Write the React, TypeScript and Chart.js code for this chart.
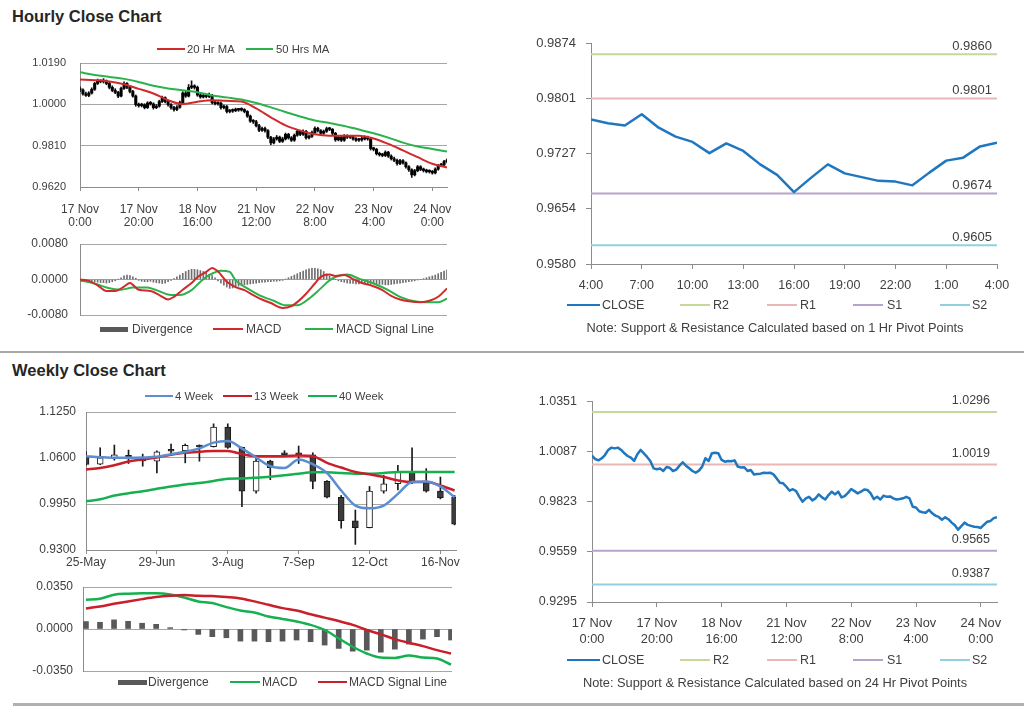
import React, { useEffect, useRef } from "react";
import { Chart, registerables } from "chart.js";

Chart.register(...registerables);

const FONT = "'Liberation Sans', Arial, Helvetica, sans-serif";
Chart.defaults.font.family = FONT;
Chart.defaults.color = "#404040";

// ================= HOURLY DATA (17 Nov 0:00 -> 24 Nov, 126 hourly bars) =================
const hourTickIndex = [0, 20, 40, 60, 80, 100, 120];
const hourTickLabels = [
  ["17 Nov", "0:00"], ["17 Nov", "20:00"], ["18 Nov", "16:00"], ["21 Nov", "12:00"],
  ["22 Nov", "8:00"], ["23 Nov", "4:00"], ["24 Nov", "0:00"],
];

const hourlyOpen = [
  1.0072, 1.0066, 1.0048, 1.0041, 1.0052, 1.0069, 1.0096, 1.0108, 1.0104, 1.0108,
  1.0096, 1.0078, 1.0064, 1.0055, 1.0038, 1.0073, 1.0096, 1.0078, 1.0059, 1.0038,
  0.9999, 0.9994, 0.9998, 0.9985, 1.0006, 1.0002, 0.9985, 0.9992, 1.0013, 1.0031,
  1.0013, 0.9999, 0.9985, 0.9976, 0.9987, 1.0008, 1.0052, 1.0038, 1.0078, 1.0081,
  1.0078, 1.0043, 1.0034, 1.0038, 1.0036, 1.0041, 1.0008, 1.0003, 1.0005, 0.9985,
  0.9990, 0.9967, 0.9969, 0.9971, 0.9976, 0.9974, 0.9976, 0.9967, 0.9946, 0.9923,
  0.9920, 0.9902, 0.9881, 0.9889, 0.9879, 0.9849, 0.9823, 0.9841, 0.9849, 0.9830,
  0.9841, 0.9862, 0.9846, 0.9835, 0.9858, 0.9876, 0.9862, 0.9876, 0.9846, 0.9853,
  0.9870, 0.9890, 0.9879, 0.9867, 0.9876, 0.9888, 0.9885, 0.9867, 0.9837, 0.9849,
  0.9835, 0.9855, 0.9849, 0.9851, 0.9841, 0.9835, 0.9837, 0.9841, 0.9849, 0.9841,
  0.9797, 0.9793, 0.9773, 0.9768, 0.9765, 0.9780, 0.9762, 0.9750, 0.9743, 0.9728,
  0.9741, 0.9731, 0.9713, 0.9699, 0.9676, 0.9695, 0.9713, 0.9701, 0.9696, 0.9691,
  0.9690, 0.9685, 0.9702, 0.9718, 0.9722, 0.9737,
];
const hourlyHigh = [
  1.0080, 1.0071, 1.0056, 1.0058, 1.0076, 1.0101, 1.0116, 1.0113, 1.0118, 1.0112,
  1.0101, 1.0085, 1.0072, 1.0060, 1.0079, 1.0104, 1.0100, 1.0083, 1.0064, 1.0043,
  1.0006, 1.0005, 1.0003, 1.0012, 1.0013, 1.0007, 0.9999, 1.0019, 1.0038, 1.0035,
  1.0018, 1.0004, 0.9991, 0.9994, 1.0015, 1.0058, 1.0060, 1.0091, 1.0108, 1.0090,
  1.0084, 1.0050, 1.0046, 1.0045, 1.0052, 1.0046, 1.0014, 1.0011, 1.0010, 0.9997,
  0.9995, 0.9976, 0.9979, 0.9983, 0.9982, 0.9984, 0.9980, 0.9971, 0.9951, 0.9930,
  0.9926, 0.9908, 0.9896, 0.9895, 0.9884, 0.9853, 0.9848, 0.9857, 0.9854, 0.9849,
  0.9868, 0.9867, 0.9852, 0.9864, 0.9884, 0.9881, 0.9883, 0.9880, 0.9860, 0.9877,
  0.9897, 0.9895, 0.9884, 0.9882, 0.9895, 0.9894, 0.9889, 0.9871, 0.9856, 0.9854,
  0.9861, 0.9860, 0.9858, 0.9856, 0.9847, 0.9844, 0.9848, 0.9855, 0.9854, 0.9846,
  0.9803, 0.9798, 0.9780, 0.9775, 0.9786, 0.9784, 0.9768, 0.9757, 0.9748, 0.9747,
  0.9746, 0.9736, 0.9719, 0.9704, 0.9701, 0.9719, 0.9718, 0.9707, 0.9702, 0.9699,
  0.9696, 0.9708, 0.9724, 0.9729, 0.9743, 0.9750,
];
const hourlyLow = [
  1.0058, 1.0042, 1.0036, 1.0035, 1.0047, 1.0064, 1.0091, 1.0099, 1.0098, 1.0090,
  1.0071, 1.0058, 1.0049, 1.0031, 1.0034, 1.0068, 1.0072, 1.0052, 1.0033, 0.9991,
  0.9987, 0.9988, 0.9979, 0.9981, 0.9996, 0.9978, 0.9980, 0.9987, 1.0008, 1.0007,
  0.9992, 0.9978, 0.9968, 0.9971, 0.9982, 1.0003, 1.0032, 1.0034, 1.0072, 1.0070,
  1.0037, 1.0028, 1.0029, 1.0030, 1.0031, 1.0002, 0.9997, 0.9996, 0.9978, 0.9979,
  0.9960, 0.9961, 0.9963, 0.9966, 0.9968, 0.9969, 0.9961, 0.9940, 0.9917, 0.9912,
  0.9896, 0.9874, 0.9875, 0.9872, 0.9842, 0.9815, 0.9818, 0.9835, 0.9824, 0.9825,
  0.9836, 0.9840, 0.9829, 0.9830, 0.9853, 0.9856, 0.9857, 0.9840, 0.9841, 0.9848,
  0.9865, 0.9873, 0.9861, 0.9862, 0.9871, 0.9879, 0.9860, 0.9830, 0.9832, 0.9829,
  0.9830, 0.9843, 0.9843, 0.9835, 0.9829, 0.9830, 0.9831, 0.9836, 0.9835, 0.9790,
  0.9786, 0.9767, 0.9762, 0.9759, 0.9760, 0.9756, 0.9744, 0.9737, 0.9720, 0.9723,
  0.9725, 0.9706, 0.9692, 0.9664, 0.9671, 0.9690, 0.9695, 0.9689, 0.9685, 0.9684,
  0.9679, 0.9680, 0.9697, 0.9713, 0.9716, 0.9731,
];
const hourlyClose = [
  1.0066, 1.0048, 1.0041, 1.0052, 1.0069, 1.0096, 1.0108, 1.0104, 1.0108, 1.0096,
  1.0078, 1.0064, 1.0055, 1.0038, 1.0073, 1.0096, 1.0078, 1.0059, 1.0038, 0.9999,
  0.9994, 0.9998, 0.9985, 1.0006, 1.0002, 0.9985, 0.9992, 1.0013, 1.0031, 1.0013,
  0.9999, 0.9985, 0.9976, 0.9987, 1.0008, 1.0052, 1.0038, 1.0078, 1.0081, 1.0078,
  1.0043, 1.0034, 1.0038, 1.0036, 1.0041, 1.0008, 1.0003, 1.0005, 0.9985, 0.9990,
  0.9967, 0.9969, 0.9971, 0.9976, 0.9974, 0.9976, 0.9967, 0.9946, 0.9923, 0.9920,
  0.9902, 0.9881, 0.9889, 0.9879, 0.9849, 0.9823, 0.9841, 0.9849, 0.9830, 0.9841,
  0.9862, 0.9846, 0.9835, 0.9858, 0.9876, 0.9862, 0.9876, 0.9846, 0.9853, 0.9870,
  0.9890, 0.9879, 0.9867, 0.9876, 0.9888, 0.9885, 0.9867, 0.9837, 0.9849, 0.9835,
  0.9855, 0.9849, 0.9851, 0.9841, 0.9835, 0.9837, 0.9841, 0.9849, 0.9841, 0.9797,
  0.9793, 0.9773, 0.9768, 0.9765, 0.9780, 0.9762, 0.9750, 0.9743, 0.9728, 0.9741,
  0.9731, 0.9713, 0.9699, 0.9676, 0.9695, 0.9713, 0.9701, 0.9696, 0.9691, 0.9690,
  0.9685, 0.9702, 0.9718, 0.9722, 0.9737, 0.9742,
];

const maHourIndex = [0, 5, 10, 15, 20, 25, 30, 35, 40, 45, 50, 55, 60, 65, 70, 75, 80, 85, 90, 95, 100, 105, 110, 115, 120, 125];
const ma20Hourly = [1.0114, 1.0111, 1.0105, 1.0092, 1.0071, 1.0050, 1.0019, 1.0001, 1.0012, 1.0019, 1.0016, 1.0013, 0.9981, 0.9940, 0.9903, 0.9879, 0.9862, 0.9856, 0.9856, 0.9856, 0.9843, 0.9818, 0.9788, 0.9757, 0.9727, 0.9710];
const ma50Hourly = [1.0147, 1.0135, 1.0126, 1.0117, 1.0103, 1.0085, 1.0073, 1.0065, 1.0056, 1.0041, 1.0032, 1.0022, 1.0006, 0.9986, 0.9965, 0.9944, 0.9926, 0.9914, 0.9900, 0.9884, 0.9867, 0.9847, 0.9824, 0.9806, 0.9795, 0.9783];

const macdHourX = [0, 3, 6, 9, 12, 15, 17, 18, 20, 24, 27, 30, 32, 35, 38, 40, 43, 45, 47, 50, 53, 56, 59, 62, 65, 69, 72, 74, 77, 80, 82, 85, 87, 90, 93, 96, 99, 103, 106, 109, 112, 116, 119, 122, 125];
const macdHourY = [0.0000, -0.0003, -0.0013, -0.0026, -0.0026, -0.0016, -0.0008, -0.0012, -0.0023, -0.0026, -0.0035, -0.0045, -0.0039, -0.0023, -0.0008, 0.0005, 0.0017, 0.0026, 0.0018, -0.0005, -0.0017, -0.0024, -0.0035, -0.0045, -0.0053, -0.0064, -0.0060, -0.0051, -0.0032, -0.0009, 0.0006, 0.0011, 0.0008, 0.0010, 0.0001, -0.0008, -0.0013, -0.0024, -0.0037, -0.0045, -0.0049, -0.0051, -0.0048, -0.0039, -0.0020];
const signalHourX = [0, 5, 9, 14, 18, 23, 26, 31, 34, 38, 41, 44, 48, 51, 53, 57, 61, 66, 70, 74, 78, 82, 85, 89, 91, 95, 100, 105, 109, 114, 118, 122, 125];
const signalHourY = [-0.0002, -0.0009, -0.0018, -0.0023, -0.0018, -0.0018, -0.0024, -0.0035, -0.0035, -0.0024, -0.0005, 0.0010, 0.0020, 0.0017, -0.0002, -0.0020, -0.0035, -0.0048, -0.0058, -0.0058, -0.0043, -0.0020, -0.0002, 0.0010, 0.0011, 0.0002, -0.0009, -0.0024, -0.0039, -0.0049, -0.0051, -0.0051, -0.0043];
const divergenceHourly = [
  -0.0001, -0.0002, -0.0003, -0.0004, -0.0004, -0.0005, -0.0006, -0.0007, -0.0007, -0.0008,
  -0.0007, -0.0005, -0.0003, 0.0001, 0.0004, 0.0008, 0.0010, 0.0009, 0.0006, 0.0003,
  -0.0002, -0.0004, -0.0005, -0.0005, -0.0004, -0.0006, -0.0007, -0.0008, -0.0009, -0.0008,
  -0.0005, -0.0002, 0.0002, 0.0006, 0.0010, 0.0014, 0.0018, 0.0021, 0.0023, 0.0023,
  0.0022, 0.0020, 0.0018, 0.0015, 0.0012, 0.0009, 0.0004, -0.0003, -0.0008, -0.0013,
  -0.0017, -0.0020, -0.0019, -0.0017, -0.0015, -0.0013, -0.0012, -0.0011, -0.0010, -0.0009,
  -0.0008, -0.0007, -0.0006, -0.0006, -0.0005, -0.0005, -0.0004, -0.0004, -0.0003, -0.0002,
  0.0001, 0.0004, 0.0007, 0.0010, 0.0013, 0.0016, 0.0019, 0.0022, 0.0024, 0.0025,
  0.0025, 0.0024, 0.0022, 0.0018, 0.0013, 0.0008, 0.0004, 0.0000, -0.0003, -0.0005,
  -0.0006, -0.0008, -0.0009, -0.0009, -0.0010, -0.0010, -0.0009, -0.0010, -0.0010, -0.0009,
  -0.0009, -0.0010, -0.0011, -0.0011, -0.0012, -0.0012, -0.0011, -0.0010, -0.0009, -0.0008,
  -0.0007, -0.0006, -0.0005, -0.0004, -0.0003, -0.0001, 0.0000, 0.0002, 0.0004, 0.0006,
  0.0008, 0.0010, 0.0013, 0.0016, 0.0019, 0.0022,
];

const hourYTicks = [0.962, 0.981, 1.0, 1.019];
const macdHourYTicks = [-0.008, 0, 0.008];

// ----- last 24 hours (1 Hr pivots) -----
const lastDayLabels = ["4:00", "5:00", "6:00", "7:00", "8:00", "9:00", "10:00", "11:00", "12:00", "13:00", "14:00", "15:00", "16:00", "17:00", "18:00", "19:00", "20:00", "21:00", "22:00", "23:00", "0:00", "1:00", "2:00", "3:00", "4:00"];
const lastDayTickIndex = [0, 3, 6, 9, 12, 15, 18, 21, 24];
const lastDayClose = [0.9773, 0.9768, 0.9765, 0.9780, 0.9762, 0.9750, 0.9743, 0.9728, 0.9741, 0.9731, 0.9713, 0.9699, 0.9676, 0.9695, 0.9713, 0.9701, 0.9696, 0.9691, 0.9690, 0.9685, 0.9702, 0.9718, 0.9722, 0.9737, 0.9742];
const pivotNames = ["R2", "R1", "S1", "S2"];
const pivot1hLevels = [0.9860, 0.9801, 0.9674, 0.9605];
const lastDayYTicks = [0.958, 0.9654, 0.9727, 0.9801, 0.9874];

// ----- 24 Hr pivots on the hourly close -----
const pivot24hLevels = [1.0296, 1.0019, 0.9565, 0.9387];
const weekHourYTicks = [0.9295, 0.9559, 0.9823, 1.0087, 1.0351];

// ================= WEEKLY DATA (25-May -> 23-Nov) =================
const weekLabels = ["25-May", "1-Jun", "8-Jun", "15-Jun", "22-Jun", "29-Jun", "6-Jul", "13-Jul", "20-Jul", "27-Jul", "3-Aug", "10-Aug", "17-Aug", "24-Aug", "31-Aug", "7-Sep", "14-Sep", "21-Sep", "28-Sep", "5-Oct", "12-Oct", "19-Oct", "26-Oct", "2-Nov", "9-Nov", "16-Nov", "23-Nov"];
const weekTickIndex = [0, 5, 10, 15, 20, 25];
const weeklyOpen = [1.0615, 1.0512, 1.0603, 1.0636, 1.0603, 1.0555, 1.0705, 1.0703, 1.0779, 1.0760, 1.1036, 1.0750, 1.0131, 1.0555, 1.0674, 1.0674, 1.0645, 1.0269, 1.0046, 0.9713, 0.9617, 1.0131, 1.0236, 1.0403, 1.0250, 1.0131, 1.0046];
const weeklyHigh = [1.0690, 1.0745, 1.0783, 1.0712, 1.0655, 1.0703, 1.0798, 1.0798, 1.0785, 1.1083, 1.1083, 1.0755, 1.0617, 1.0569, 1.0703, 1.0769, 1.0674, 1.0280, 1.0070, 0.9865, 1.0198, 1.0355, 1.0498, 1.0745, 1.0450, 1.0331, 1.0070];
const weeklyLow = [1.0500, 1.0505, 1.0569, 1.0522, 1.0484, 1.0388, 1.0655, 1.0531, 1.0555, 1.0755, 1.0736, 0.9912, 1.0103, 1.0293, 1.0636, 1.0522, 1.0165, 1.0036, 0.9608, 0.9379, 0.9612, 1.0103, 1.0150, 1.0236, 1.0117, 1.0022, 0.9655];
const weeklyClose = [1.0510, 1.0603, 1.0645, 1.0588, 1.0560, 1.0688, 1.0695, 1.0779, 1.0755, 1.1036, 1.0750, 1.0131, 1.0555, 1.0465, 1.0645, 1.0645, 1.0269, 1.0046, 0.9713, 0.9617, 1.0131, 1.0236, 1.0403, 1.0260, 1.0131, 1.0036, 0.9665];
const ma4Week = [1.0626, 1.0612, 1.0603, 1.0603, 1.0607, 1.0617, 1.0655, 1.0688, 1.0736, 1.0817, 1.0841, 1.0736, 1.0607, 1.0484, 1.0460, 1.0579, 1.0512, 1.0388, 1.0141, 0.9927, 0.9889, 0.9927, 1.0093, 1.0260, 1.0269, 1.0198, 1.0046];
const ma13Week = [1.0436, 1.0460, 1.0498, 1.0550, 1.0579, 1.0607, 1.0645, 1.0674, 1.0688, 1.0698, 1.0698, 1.0655, 1.0626, 1.0626, 1.0626, 1.0636, 1.0626, 1.0531, 1.0465, 1.0403, 1.0369, 1.0331, 1.0284, 1.0260, 1.0260, 1.0212, 1.0141];
const ma40Week = [0.9989, 1.0017, 1.0070, 1.0103, 1.0131, 1.0165, 1.0198, 1.0227, 1.0246, 1.0274, 1.0308, 1.0312, 1.0322, 1.0336, 1.0355, 1.0379, 1.0398, 1.0398, 1.0388, 1.0379, 1.0379, 1.0388, 1.0403, 1.0403, 1.0403, 1.0403, 1.0403];
const macdWeekly = [0.0244, 0.0252, 0.0286, 0.0294, 0.0297, 0.0297, 0.0288, 0.0263, 0.0230, 0.0216, 0.0182, 0.0154, 0.0137, 0.0104, 0.0084, 0.0062, 0.0034, -0.0008, -0.0078, -0.0148, -0.0204, -0.0238, -0.0241, -0.0221, -0.0238, -0.0246, -0.0297];
const signalWeekly = [0.0171, 0.0188, 0.0210, 0.0230, 0.0249, 0.0266, 0.0277, 0.0283, 0.0277, 0.0274, 0.0266, 0.0255, 0.0230, 0.0202, 0.0174, 0.0154, 0.0123, 0.0095, 0.0067, 0.0034, -0.0008, -0.0045, -0.0084, -0.0115, -0.0143, -0.0176, -0.0204];
const divergenceWeekly = [0.0062, 0.0056, 0.0076, 0.0064, 0.0048, 0.0039, 0.0011, -0.0008, -0.0045, -0.0064, -0.0073, -0.0101, -0.0101, -0.0106, -0.0101, -0.0092, -0.0106, -0.0134, -0.0162, -0.0185, -0.0176, -0.0193, -0.0168, -0.0126, -0.0084, -0.0064, -0.0092];
const weekYTicks = [0.93, 0.995, 1.06, 1.125];
const macdWeekYTicks = [-0.035, 0, 0.035];

// ================= STYLES =================
const TXT = "#404040";
const GRID = "#a6a6a6";
const AXIS = "#8c8c8c";
const RED_H = "#d02a2a";
const GREEN_H = "#2bb24c";
const RED_W = "#c8202a";
const GREEN_W = "#16b050";
const BLUE_W = "#5b8dd0";
const CLOSE_BLUE = "#1f77c0";
const PIVOT_COLORS = ["#c4d99b", "#e8b7b6", "#b6a3cc", "#93d0df"];
const DARK = "#3c3c3c";
const CLEAR = "rgba(0,0,0,0)";

const fixWidth = (w: number) => (s: any) => { s.width = w; };
const fixHeight = (h: number) => (s: any) => { s.height = h; };
const setTicks = (vals: number[]) => (s: any) => { s.ticks = vals.map((value) => ({ value })); };
const fmt4 = (v: any) => Number(v).toFixed(4);

function baseOptions(padding: any) {
  return {
    responsive: false,
    maintainAspectRatio: false,
    animation: false,
    devicePixelRatio: 1,
    events: [],
    layout: { padding },
    plugins: { legend: { display: false }, tooltip: { enabled: false }, title: { display: false } },
  };
}

// o.gap: distance between label and axis, produced by an invisible tick mark (keeps vertical padding small)
// o.tickLen / o.pad: visible tick marks plus label padding
function yAxis(o: any) {
  const visibleTicks = !!o.tickLen;
  return {
    type: "linear",
    bounds: "data",
    min: o.min,
    max: o.max,
    afterBuildTicks: setTicks(o.ticks),
    afterFit: fixWidth(o.width),
    grid: {
      display: true,
      drawOnChartArea: o.grid,
      drawTicks: true,
      tickLength: visibleTicks ? o.tickLen : o.gap,
      tickColor: visibleTicks ? AXIS : CLEAR,
      color: o.grid ? GRID : AXIS,
      lineWidth: 1,
    },
    border: { display: true, color: AXIS, width: 1 },
    ticks: { padding: visibleTicks ? o.pad : 0, font: { size: o.size }, color: TXT, callback: fmt4, autoSkip: false },
  };
}

function xAxis(o: any) {
  return {
    type: "linear",
    bounds: "data",
    min: o.min,
    max: o.max,
    offset: false,
    display: o.display === false ? false : true,
    afterBuildTicks: setTicks(o.ticks || []),
    afterFit: fixHeight(o.height || 0),
    grid: { display: true, offset: false, drawOnChartArea: false, drawTicks: true, tickLength: o.tickLen || 0, color: AXIS },
    border: { display: true, color: AXIS, width: 1 },
    ticks: {
      padding: o.pad || 0,
      font: { size: o.size || 12, lineHeight: `${o.lineHeight || 14}px` },
      color: TXT,
      maxRotation: 0,
      minRotation: 0,
      autoSkip: false,
      callback: o.labels,
    },
  };
}

function lineDS(points: any[], color: string, width: number, smooth: boolean, order: number) {
  return {
    type: "line",
    data: points,
    borderColor: color,
    backgroundColor: color,
    borderWidth: width,
    pointRadius: 0,
    fill: false,
    cubicInterpolationMode: smooth ? "monotone" : "default",
    tension: 0,
    borderJoinStyle: "round",
    order,
  };
}

function pivotLabelPlugin(levels: number[], size: number, inset: number, dy: number) {
  return {
    id: "pivotLabels",
    afterDatasetsDraw(chart: any) {
      const { ctx, chartArea } = chart;
      const ys = chart.scales.y;
      ctx.save();
      ctx.font = `${size}px ${FONT}`;
      ctx.fillStyle = TXT;
      ctx.textAlign = "right";
      ctx.textBaseline = "middle";
      levels.forEach((v) => ctx.fillText(v.toFixed(4), chartArea.right - inset, ys.getPixelForValue(v) - dy));
      ctx.restore();
    },
  };
}

// ---------- Chart A: hourly candles + MAs ----------
const buildHourlyCandles = () => ({
  type: "line",
  data: {
    datasets: [
      lineDS(maHourIndex.map((x, i) => ({ x, y: ma20Hourly[i] })), RED_H, 2, true, 0),
      lineDS(maHourIndex.map((x, i) => ({ x, y: ma50Hourly[i] })), GREEN_H, 2, true, 0),
      {
        type: "bar",
        data: hourlyClose.map((c, i) => ({ x: i, y: [hourlyOpen[i], c] })),
        backgroundColor: "#000000",
        barThickness: 2.4,
        grouped: false,
        minBarLength: 1.5,
        clip: 0,
        order: 1,
      },
      {
        type: "bar",
        data: hourlyHigh.map((h, i) => ({ x: i, y: [hourlyLow[i], h] })),
        backgroundColor: "#111111",
        barThickness: 1,
        grouped: false,
        clip: 0,
        order: 2,
      },
    ],
  },
  options: {
    ...baseOptions({ left: 20, top: 15, right: 18, bottom: 6 }),
    scales: {
      x: xAxis({ min: 0, max: 125, ticks: hourTickIndex, height: 45, tickLen: 4, pad: 11.5, size: 12, lineHeight: 13.5,
        labels: (v: any) => hourTickLabels[hourTickIndex.indexOf(Number(v))] }),
      y: yAxis({ min: 0.962, max: 1.019, ticks: hourYTicks, width: 60, gap: 14, size: 11, grid: true }),
    },
  },
});

// ---------- Chart B: hourly MACD ----------
const buildHourlyMacd = () => ({
  type: "line",
  data: {
    datasets: [
      lineDS(macdHourX.map((x, i) => ({ x, y: macdHourY[i] })), RED_H, 2, true, 0),
      lineDS(signalHourX.map((x, i) => ({ x, y: signalHourY[i] })), GREEN_H, 2, true, 1),
      {
        type: "bar",
        data: divergenceHourly.map((v, i) => ({ x: i, y: v })),
        backgroundColor: "#6e6e6e",
        barThickness: 1,
        grouped: false,
        order: 2,
      },
    ],
  },
  options: {
    ...baseOptions({ left: 20, top: 12, right: 18, bottom: 12 }),
    scales: {
      x: xAxis({ min: 0, max: 125, display: false }),
      y: yAxis({ min: -0.008, max: 0.008, ticks: macdHourYTicks, width: 60, gap: 12, size: 12, grid: true }),
    },
  },
});

// ---------- Chart C: last 24h close + 1 Hr pivots ----------
const buildLastDay = () => ({
  type: "line",
  data: {
    datasets: [
      lineDS(lastDayClose.map((y, x) => ({ x, y })), CLOSE_BLUE, 2.5, false, 0),
      ...pivot1hLevels.map((lvl, k) => lineDS([{ x: 0, y: lvl }, { x: 24, y: lvl }], PIVOT_COLORS[k], 2, false, 1)),
    ],
  },
  plugins: [pivotLabelPlugin(pivot1hLevels, 13, 5, 8)],
  options: {
    ...baseOptions({ left: 6, top: 0, right: 27, bottom: 5 }),
    scales: {
      x: xAxis({ min: 0, max: 24, ticks: lastDayTickIndex, height: 33, tickLen: 5, pad: 9, size: 12.5, lineHeight: 15,
        labels: (v: any) => lastDayLabels[Number(v)] }),
      y: yAxis({ min: 0.958, max: 0.9874, ticks: lastDayYTicks, width: 80, pad: 10, size: 13, grid: false, tickLen: 5 }),
    },
  },
});

// ---------- Chart D: hourly close + 24 Hr pivots ----------
const buildWeekHours = () => ({
  type: "line",
  data: {
    datasets: [
      lineDS(hourlyClose.map((y, x) => ({ x, y })), CLOSE_BLUE, 2.5, false, 0),
      ...pivot24hLevels.map((lvl, k) => lineDS([{ x: 0, y: lvl }, { x: 125, y: lvl }], PIVOT_COLORS[k], 2, false, 1)),
    ],
  },
  plugins: [pivotLabelPlugin(pivot24hLevels, 12.5, 7, 11)],
  options: {
    ...baseOptions({ left: 5, top: 0, right: 27, bottom: 4 }),
    scales: {
      x: xAxis({ min: 0, max: 125, ticks: hourTickIndex, height: 50, tickLen: 5, pad: 8, size: 12.8, lineHeight: 16.5,
        labels: (v: any) => hourTickLabels[hourTickIndex.indexOf(Number(v))] }),
      y: yAxis({ min: 0.9295, max: 1.0351, ticks: weekHourYTicks, width: 82, pad: 10, size: 12.5, grid: false, tickLen: 5 }),
    },
  },
});

// ---------- Chart E: weekly candles + MAs ----------
const buildWeeklyCandles = () => ({
  type: "line",
  data: {
    datasets: [
      lineDS(ma4Week.map((y, x) => ({ x, y })), BLUE_W, 2.5, true, 0),
      lineDS(ma13Week.map((y, x) => ({ x, y })), RED_W, 2.5, true, 1),
      lineDS(ma40Week.map((y, x) => ({ x, y })), GREEN_W, 2.5, true, 2),
      {
        type: "bar",
        data: weeklyClose.map((c, i) => ({ x: i, y: [weeklyOpen[i], c] })),
        backgroundColor: weeklyClose.map((c, i) => (c < weeklyOpen[i] ? DARK : "#ffffff")),
        borderColor: "#1a1a1a",
        borderWidth: 1,
        borderSkipped: false,
        barThickness: 6,
        grouped: false,
        minBarLength: 2,
        clip: 0,
        order: 3,
      },
      {
        type: "bar",
        data: weeklyHigh.map((h, i) => ({ x: i, y: [weeklyLow[i], h] })),
        backgroundColor: "#1a1a1a",
        barThickness: 1,
        grouped: false,
        clip: 0,
        order: 4,
      },
    ],
  },
  options: {
    ...baseOptions({ left: 26, top: 12, right: 19, bottom: 5 }),
    scales: {
      x: xAxis({ min: 0, max: 26.1, ticks: weekTickIndex, height: 25, tickLen: 4, pad: 1.5, size: 12, lineHeight: 14,
        labels: (v: any) => weekLabels[Number(v)] }),
      y: yAxis({ min: 0.93, max: 1.125, ticks: weekYTicks, width: 60, gap: 10, size: 12, grid: true }),
    },
  },
});

// ---------- Chart F: weekly MACD ----------
const buildWeeklyMacd = () => ({
  type: "line",
  data: {
    datasets: [
      lineDS(macdWeekly.map((y, x) => ({ x, y })), GREEN_W, 2.5, true, 1),
      lineDS(signalWeekly.map((y, x) => ({ x, y })), RED_W, 2.5, true, 0),
      {
        type: "bar",
        data: divergenceWeekly.map((y, x) => ({ x, y })),
        backgroundColor: "#595959",
        barThickness: 5,
        grouped: false,
        order: 2,
      },
    ],
  },
  options: {
    ...baseOptions({ left: 23, top: 12, right: 23, bottom: 9 }),
    scales: {
      x: xAxis({ min: -0.21, max: 26.07, display: false }),
      y: yAxis({ min: -0.035, max: 0.035, ticks: macdWeekYTicks, width: 60, gap: 10, size: 12, grid: true }),
    },
  },
});

// ================= COMPONENTS =================
function ChartCanvas({ x, y, w, h, build }: { x: number; y: number; w: number; h: number; build: () => any }) {
  const ref = useRef<HTMLCanvasElement | null>(null);
  useEffect(() => {
    if (!ref.current) return;
    const chart = new Chart(ref.current, build());
    return () => chart.destroy();
  }, []);
  return (
    <canvas
      ref={ref}
      width={w}
      height={h}
      style={{ position: "absolute", left: x, top: y, width: w, height: h, display: "block" }}
    />
  );
}

type LegendItem = { kind: "line" | "box"; color: string; x0: number; x1: number; tx: number; label: string };

function Legend({ y, size, items }: { y: number; size: number; items: LegendItem[] }) {
  return (
    <>
      {items.map((it, k) => (
        <React.Fragment key={k}>
          <div
            style={{
              position: "absolute",
              left: it.x0,
              top: it.kind === "box" ? y - 2.5 : y - 1,
              width: it.x1 - it.x0,
              height: it.kind === "box" ? 5 : 2,
              background: it.color,
            }}
          />
          <div
            style={{
              position: "absolute",
              left: it.tx,
              top: y - 9,
              height: 18,
              lineHeight: "18px",
              fontSize: size,
              color: TXT,
              whiteSpace: "nowrap",
            }}
          >
            {it.label}
          </div>
        </React.Fragment>
      ))}
    </>
  );
}

const titleStyle: React.CSSProperties = {
  position: "absolute",
  left: 12,
  fontSize: 16.5,
  fontWeight: "bold",
  lineHeight: "20px",
  color: "#262626",
  whiteSpace: "nowrap",
};

const noteStyle: React.CSSProperties = {
  position: "absolute",
  left: 560,
  width: 430,
  textAlign: "center",
  fontSize: 12.8,
  lineHeight: "18px",
  color: TXT,
  whiteSpace: "nowrap",
};

function pivotLegend(): LegendItem[] {
  const xs = [[680, 710, 713], [767, 797, 800], [853, 883, 887], [940, 970, 972]];
  return [
    { kind: "line", color: CLOSE_BLUE, x0: 567, x1: 600, tx: 602, label: "CLOSE" },
    ...pivotNames.map((n, k) => ({ kind: "line" as const, color: PIVOT_COLORS[k], x0: xs[k][0], x1: xs[k][1], tx: xs[k][2], label: n })),
  ];
}

export default function App() {
  return (
    <div
      style={{
        position: "absolute",
        left: 0,
        top: 0,
        width: 1024,
        height: 706,
        background: "#ffffff",
        overflow: "hidden",
        fontFamily: FONT,
      }}
    >
      <div style={{ ...titleStyle, top: 6 }}>Hourly Close Chart</div>

      <ChartCanvas x={0} y={48} w={465} h={190} build={buildHourlyCandles} />
      <ChartCanvas x={0} y={232} w={465} h={95} build={buildHourlyMacd} />
      <ChartCanvas x={505} y={26} w={519} h={276} build={buildLastDay} />

      <Legend
        y={49}
        size={11.3}
        items={[
          { kind: "line", color: RED_H, x0: 157, x1: 185, tx: 187, label: "20 Hr MA" },
          { kind: "line", color: GREEN_H, x0: 246, x1: 273, tx: 276, label: "50 Hrs MA" },
        ]}
      />
      <Legend
        y={329}
        size={12}
        items={[
          { kind: "box", color: "#595959", x0: 100, x1: 128, tx: 132, label: "Divergence" },
          { kind: "line", color: RED_H, x0: 213, x1: 243, tx: 246, label: "MACD" },
          { kind: "line", color: GREEN_H, x0: 305, x1: 333, tx: 336, label: "MACD Signal Line" },
        ]}
      />
      <Legend y={305} size={12.5} items={pivotLegend()} />
      <div style={{ ...noteStyle, top: 319 }}>Note: Support &amp; Resistance Calculated based on 1 Hr Pivot Points</div>

      <div style={{ position: "absolute", left: 0, top: 351, width: 1024, height: 2, background: "#a8a8a8" }} />

      <div style={{ ...titleStyle, top: 360 }}>Weekly Close Chart</div>

      <ChartCanvas x={0} y={400} w={475} h={180} build={buildWeeklyCandles} />
      <ChartCanvas x={0} y={575} w={475} h={105} build={buildWeeklyMacd} />
      <ChartCanvas x={505} y={384} w={519} h={272} build={buildWeekHours} />

      <Legend
        y={396}
        size={11.3}
        items={[
          { kind: "line", color: BLUE_W, x0: 145, x1: 173, tx: 175, label: "4 Week" },
          { kind: "line", color: RED_W, x0: 223, x1: 252, tx: 254, label: "13 Week" },
          { kind: "line", color: GREEN_W, x0: 308, x1: 337, tx: 339, label: "40 Week" },
        ]}
      />
      <Legend
        y={682}
        size={12}
        items={[
          { kind: "box", color: "#595959", x0: 118, x1: 147, tx: 148, label: "Divergence" },
          { kind: "line", color: GREEN_W, x0: 230, x1: 260, tx: 262, label: "MACD" },
          { kind: "line", color: RED_W, x0: 318, x1: 347, tx: 349, label: "MACD Signal Line" },
        ]}
      />
      <Legend y={660} size={12.5} items={pivotLegend()} />
      <div style={{ ...noteStyle, top: 674 }}>Note: Support &amp; Resistance Calculated based on 24 Hr Pivot Points</div>

      <div style={{ position: "absolute", left: 13, top: 703, width: 1011, height: 3, background: "#b0b0b0" }} />
    </div>
  );
}
